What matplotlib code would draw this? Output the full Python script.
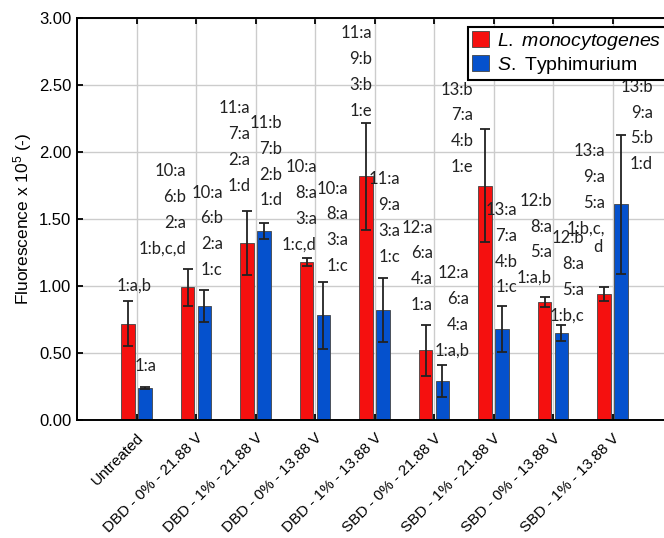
import matplotlib
matplotlib.use('Agg')
import matplotlib.pyplot as plt
import numpy as np

groups = ['Untreated', 'DBD - 0% - 21.88 V', 'DBD - 1% - 21.88 V', 'DBD - 0% - 13.88 V',
          'DBD - 1% - 13.88 V', 'SBD - 0% - 21.88 V', 'SBD - 1% - 21.88 V',
          'SBD - 0% - 13.88 V', 'SBD - 1% - 13.88 V']

listeria = [0.72, 0.99, 1.32, 1.18, 1.82, 0.52, 1.75, 0.88, 0.94]
listeria_err = [0.17, 0.14, 0.24, 0.03, 0.40, 0.19, 0.42, 0.04, 0.05]
salmonella = [0.24, 0.85, 1.41, 0.78, 0.82, 0.29, 0.68, 0.65, 1.61]
salmonella_err = [0.01, 0.12, 0.06, 0.25, 0.24, 0.12, 0.17, 0.06, 0.52]

listeria_labels = ['1:a,b', '10:a\n6:b\n2:a\n1:b,c,d', '11:a\n7:a\n2:a\n1:d',
                   '10:a\n8:a\n3:a\n1:c,d', '11:a\n9:b\n3:b\n1:e', '12:a\n6:a\n4:a\n1:a',
                   '13:b\n7:a\n4:b\n1:e', '12:b\n8:a\n5:a\n1:a,b', '13:a\n9:a\n5:a\n1:b,c,\nd']
salmonella_labels = ['1:a', '10:a\n6:b\n2:a\n1:c', '11:b\n7:b\n2:b\n1:d',
                     '10:a\n8:a\n3:a\n1:c', '11:a\n9:a\n3:a\n1:c', '12:a\n6:a\n4:a\n1:a,b',
                     '13:a\n7:a\n4:b\n1:c', '12:b\n8:a\n5:a\n1:b,c', '13:b\n9:a\n5:b\n1:d']

# where the letter blocks sit (right edge x, bottom y)
listeria_lab_pos = [(1.26, 0.94), (1.83, 1.22), (2.91, 1.69), (4.03, 1.25), (4.96, 2.25),
                    (5.98, 0.80), (6.66, 1.83), (7.98, 1.00), (8.87, 1.37)]
salmonella_lab_pos = [(1.345, 0.34), (2.45, 1.06), (3.45, 1.58), (4.555, 1.09), (5.43, 1.16),
                      (6.59, 0.46), (7.40, 0.93), (8.52, 0.72), (9.68, 1.85)]

plt.rcParams['font.family'] = ['Liberation Sans', 'DejaVu Sans']
plt.rcParams['mathtext.fontset'] = 'custom'
plt.rcParams['mathtext.rm'] = 'Liberation Sans'
plt.rcParams['mathtext.it'] = 'Liberation Sans:italic'

fig = plt.figure(figsize=(6.64, 5.38), dpi=100)
ax = fig.add_axes([77/664, 118/538, 595/664, 402/538])

x = np.arange(1, len(groups) + 1)
w = 0.225
off = 0.14
red = '#f5100f'
blue = '#0551cd'

ax.bar(x - off, listeria, w, color=red, edgecolor='#444444', linewidth=0.6, zorder=2,
       label=r'$\mathit{L.\ monocytogenes}$')
ax.bar(x + off, salmonella, w, color=blue, edgecolor='#444444', linewidth=0.6, zorder=2,
       label=r'$\mathit{S.}$ Typhimurium')
ax.errorbar(x - off, listeria, yerr=listeria_err, fmt='none', ecolor='#222222',
            elinewidth=1.3, capsize=3.3, capthick=1.3, zorder=3)
ax.errorbar(x + off, salmonella, yerr=salmonella_err, fmt='none', ecolor='#222222',
            elinewidth=1.3, capsize=3.3, capthick=1.3, zorder=3)

txt_kw = dict(va='bottom', multialignment='right', fontsize=12, family='Lato',
              color='#222222', linespacing=1.75, zorder=4)
for txt, (px, py) in zip(listeria_labels + salmonella_labels,
                         listeria_lab_pos + salmonella_lab_pos):
    lines = txt.split('\n')
    if len(lines) > 4:
        # wrapped last entry: its tail sits tight under the block
        ax.text(px, py, '\n'.join(lines[:4]), ha='right', **txt_kw)
        ax.text(px - 0.12, py - 0.135, '\n'.join(lines[4:]), ha='center', **txt_kw)
    else:
        ax.text(px, py, txt, ha='right', **txt_kw)

ax.set_xlim(0, 10)
ax.set_ylim(0, 3)
ax.set_yticks(np.arange(0, 3.01, 0.5))
ax.set_yticklabels([f'{v:.2f}' for v in np.arange(0, 3.01, 0.5)], fontsize=12)
ax.set_xticks(x)
ax.set_xticklabels(groups, rotation=45, ha='right', va='top', rotation_mode='anchor',
                   fontsize=11)
ax.tick_params(axis='x', direction='in', length=4.5, width=1.3, top=True, pad=8)
ax.tick_params(axis='y', direction='in', length=4.5, width=1.3, pad=4)
ax.grid(True, color='#cccccc', linewidth=1)
ax.set_axisbelow(True)
for s in ax.spines.values():
    s.set_linewidth(1.4)

ax.set_ylabel('Fluorescence x 10$^5$ (-)', fontsize=12.5, labelpad=4)

leg = ax.legend(loc='upper left', bbox_to_anchor=(0.657, 0.978), borderaxespad=0,
                fontsize=14, handlelength=0.85, handleheight=0.9, handletextpad=0.45,
                labelspacing=0.15, borderpad=0.22, fancybox=False, framealpha=1)
leg.get_frame().set_edgecolor('black')
leg.get_frame().set_linewidth(1.5)

fig.savefig('out.png', dpi=100)
